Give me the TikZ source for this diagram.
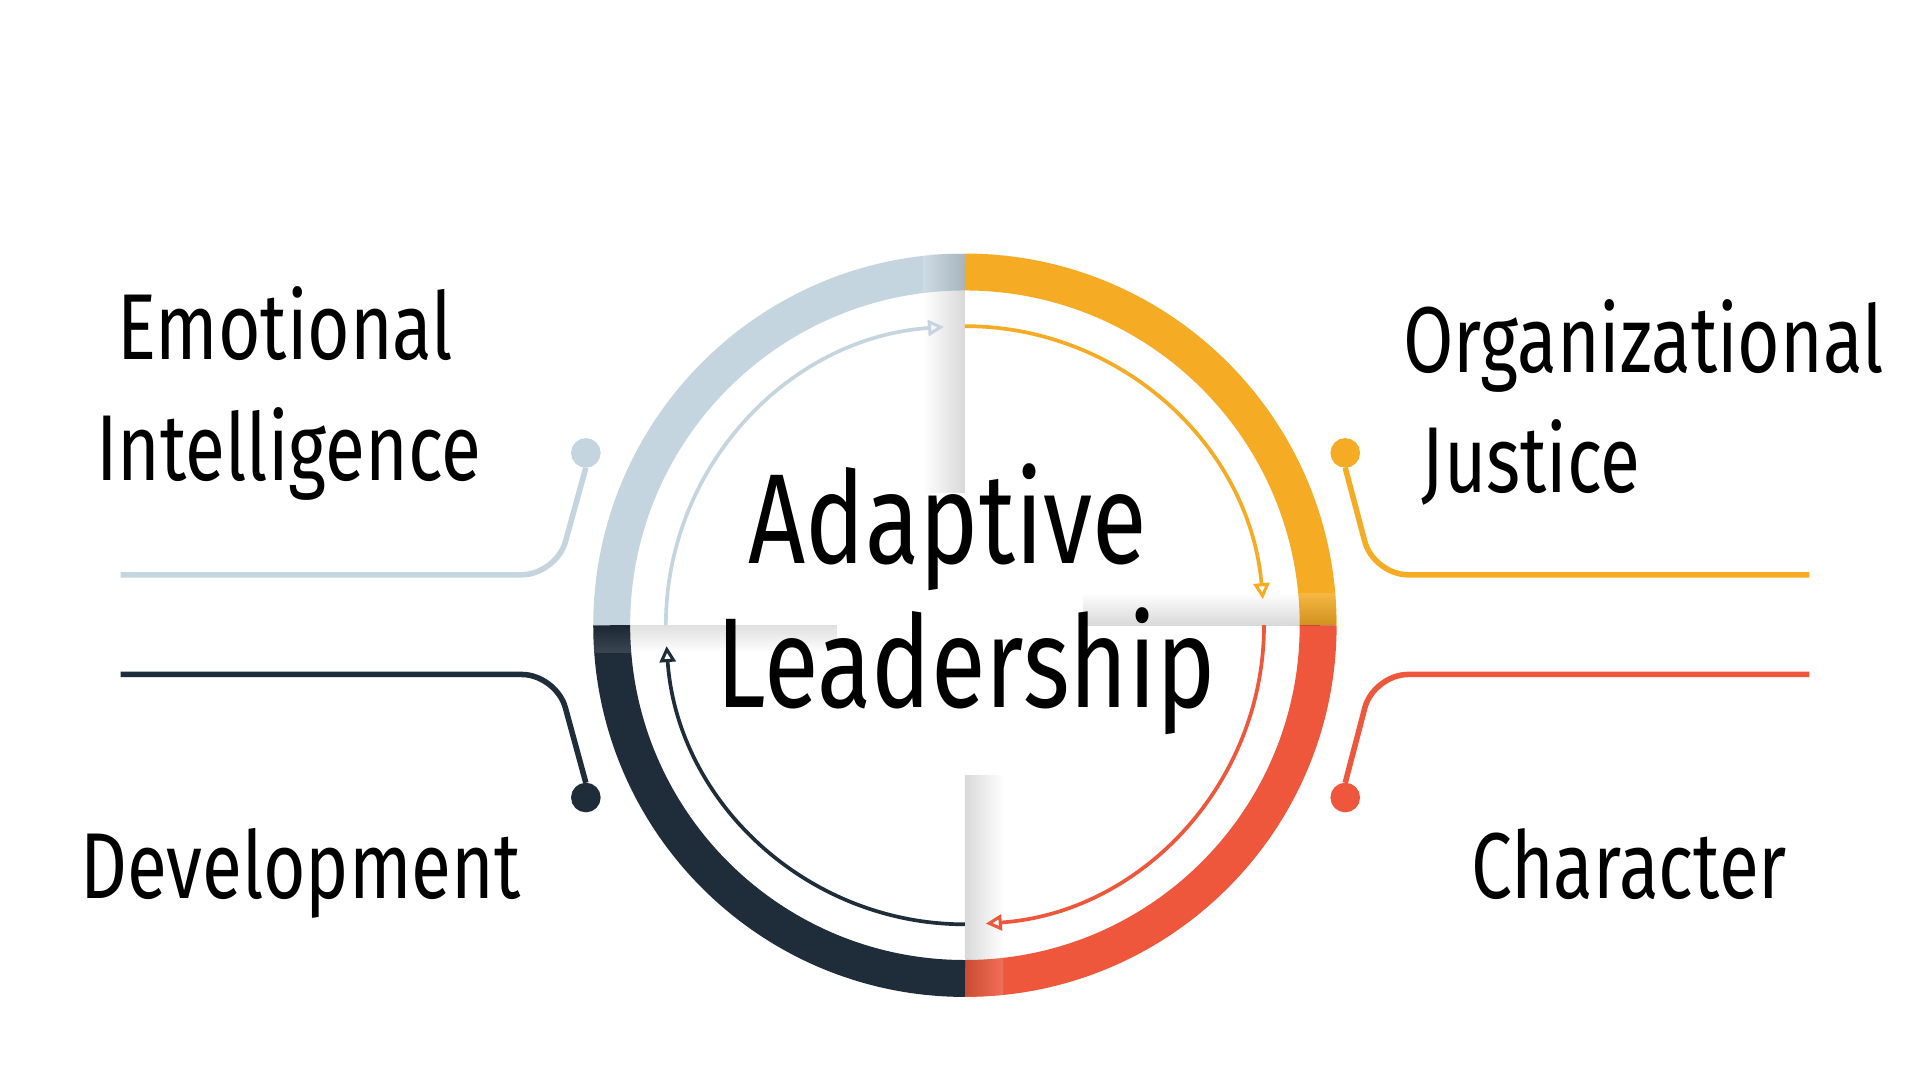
\documentclass[tikz,border=0pt]{standalone}
\usepackage{fontspec}
\setmainfont[FakeStretch=0.78]{Fira Sans}
\usetikzlibrary{arrows.meta}
\definecolor{cgray}{HTML}{C5D5E0}
\definecolor{corange}{HTML}{F5AB23}
\definecolor{cred}{HTML}{EE573B}
\definecolor{cdark}{HTML}{1F2D3A}
\tikzset{
 ring/.style={line width=30pt,line cap=butt},
 inarc/.style={line width=3pt,-{Triangle[open,length=13pt,width=13pt,line width=2.5pt]}},
 conn/.style={line width=4.5pt,rounded corners=28pt},
 dot/.style={circle,draw,line width=4pt,minimum size=20pt,inner sep=0pt,fill=white},
 lab/.style={font=\fontsize{76}{80}\selectfont,anchor=base west,inner sep=0pt},
 big/.style={font=\fontsize{104}{110}\selectfont,anchor=base,inner sep=0pt}
}
\begin{document}
\begin{tikzpicture}[x=1pt,y=-1pt]
\useasboundingbox (0,0) rectangle (1560,878);
\fill[white] (0,0) rectangle (1560,878);
\coordinate (c) at (784,508);
% ring
\draw[ring,cgray] ([shift={(180:287)}]c) arc[start angle=180,end angle=270,radius=287];
\draw[ring,corange] ([shift={(270:287)}]c) arc[start angle=270,end angle=360,radius=287];
\draw[ring,cred] ([shift={(0:287)}]c) arc[start angle=0,end angle=90,radius=287];
\draw[ring,cdark] ([shift={(90:287)}]c) arc[start angle=90,end angle=180,radius=287];
% soft shadows
\shade[left color=white,right color=black,opacity=0.15] (750,207) rectangle (784,400);
\shade[top color=white,bottom color=black,opacity=0.15] (880,482) rectangle (1085,508);
\shade[left color=black,right color=white,opacity=0.15] (784,630) rectangle (815,809);
\shade[top color=black,bottom color=white,opacity=0.12] (483,508) rectangle (680,530);
% inner arrows
\draw[inarc,cgray] ([shift={(180:243)}]c) arc[start angle=180,end angle=266,radius=243];
\draw[inarc,corange] ([shift={(270:243)}]c) arc[start angle=270,end angle=355,radius=243];
\draw[inarc,cred] ([shift={(0:243)}]c) arc[start angle=0,end angle=86,radius=243];
\draw[inarc,cdark] ([shift={(90:243)}]c) arc[start angle=90,end angle=176,radius=243];
% connectors
\coordinate (g0) at (98,467); \coordinate (g1) at (452,467);
\node[dot,cgray] (gd) at (476,368) {};
\draw[conn,cgray] (g0) -- (g1) -- (gd.south);
\coordinate (d0) at (98,548); \coordinate (d1) at (452,548);
\node[dot,cdark] (dd) at (476,648) {};
\draw[conn,cdark] (d0) -- (d1) -- (dd.north);
\coordinate (o0) at (1470,467); \coordinate (o1) at (1116,467);
\node[dot,corange] (od) at (1093,368) {};
\draw[conn,corange] (o0) -- (o1) -- (od.south);
\coordinate (r0) at (1470,548); \coordinate (r1) at (1116,548);
\node[dot,cred] (rd) at (1093,648) {};
\draw[conn,cred] (r0) -- (r1) -- (rd.north);
% labels
\node[lab] (l1) at (95,292) {Emotional};
\node[lab] (l2) at (78,390) {Intelligence};
\node[lab] (l3) at (1140,303) {Organizational};
\node[lab] (l4) at (1155,400) {Justice};
\node[lab] (l5) at (65,730) {Development};
\node[lab] (l6) at (1195,730) {Character};
\node[big] (t1) at (770,458) {Adaptive};
\node[big] (t2) at (785,575) {Leadership};
\end{tikzpicture}
\end{document}
